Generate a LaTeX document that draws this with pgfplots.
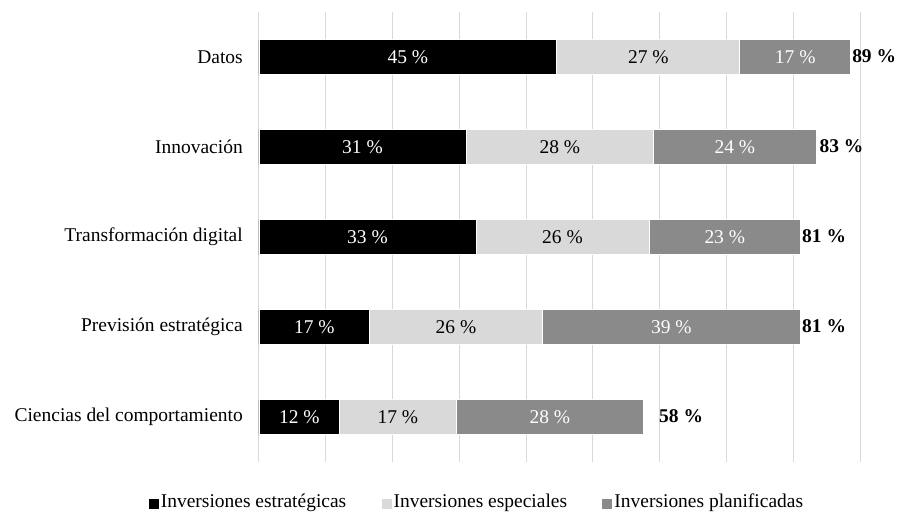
\documentclass[border=0pt]{standalone}
\usepackage{fontspec}
\setmainfont{Liberation Serif}
\usepackage{pgfplots}
\pgfplotsset{compat=1.18}

\definecolor{estrat}{HTML}{000000}
\definecolor{especial}{HTML}{D9D9D9}
\definecolor{planif}{HTML}{8A8A8A}
\definecolor{gridc}{HTML}{D9D9D9}

\newcommand{\lbl}{\fontsize{14.6}{17}\selectfont}

% stacked-bar segment with its value centred inside
\pgfplotsset{
  seg/.style 2 args={
    fill=#1, draw=white, line width=0.6pt,
    point meta=explicit symbolic,
    nodes near coords={\pgfplotspointmeta~\%},
    every node near coord/.append style={anchor=center, font=\lbl, text=#2},
  },
}

\begin{document}
\begin{tikzpicture}
\begin{axis}[
  xbar stacked,
  stacked ignores zero=false,
  x=5.00833pt, y=67.5pt,
  bar width=26.25pt,
  xmin=0, xmax=90, ymin=-0.5, ymax=4.5,
  xtick={0,10,...,90}, xticklabels={},
  ytick={0,1,2,3,4},
  yticklabels={Ciencias del comportamiento, Previsión estratégica,
    Transformación digital, Innovación, Datos},
  yticklabel style={font=\lbl, anchor=east, inner sep=0pt, xshift=-12pt},
  major tick length=0pt,
  axis line style={draw=none},
  xmajorgrids, grid style={gridc, line width=0.75pt},
  clip=false,
  legend columns=3,
  legend cell align=left,
  legend style={at={(0.3627,-0.089)}, anchor=center, draw=none, font=\lbl,
    nodes={inner sep=1.5pt},
    /tikz/every even column/.append style={column sep=25pt}},
  legend image code/.code={\fill[#1,draw=none] (0pt,-5pt) rectangle (7.5pt,2.5pt);},
]
\addplot[seg={estrat}{white}] coordinates {
  (12.1,0) [12] (16.6,1) [17] (32.5,2) [33] (31.0,3) [31] (44.6,4) [45]};
\addlegendentry{Inversiones estratégicas}
\addplot[seg={especial}{black}] coordinates {
  (17.4,0) [17] (25.8,1) [26] (25.9,2) [26] (28.1,3) [28] (27.4,4) [27]};
\addlegendentry{Inversiones especiales}
\addplot[seg={planif}{white}] coordinates {
  (28.1,0) [28] (38.7,1) [39] (22.7,2) [23] (24.3,3) [24] (16.6,4) [17]};
\addlegendentry{Inversiones planificadas}
% totals at the end of each bar
\addplot[draw=none, fill=none,
  point meta=explicit symbolic,
  nodes near coords={\textbf{\pgfplotspointmeta~\%}},
  every node near coord/.append style={anchor=west, font=\lbl, text=black,
    inner sep=1pt, yshift=1pt}]
  coordinates {(0,0) [\hspace*{10.5pt}58] (0,1) [81] (0,2) [81] (0,3) [\hspace*{1.5pt}83] (0,4) [89]};
\end{axis}
\pgfresetboundingbox
\path[use as bounding box]
  ([shift={(-194.25pt,-37.5pt)}]current axis.south west) rectangle
  ([shift={(491.25pt,346.5pt)}]current axis.south west);
\end{tikzpicture}
\end{document}
